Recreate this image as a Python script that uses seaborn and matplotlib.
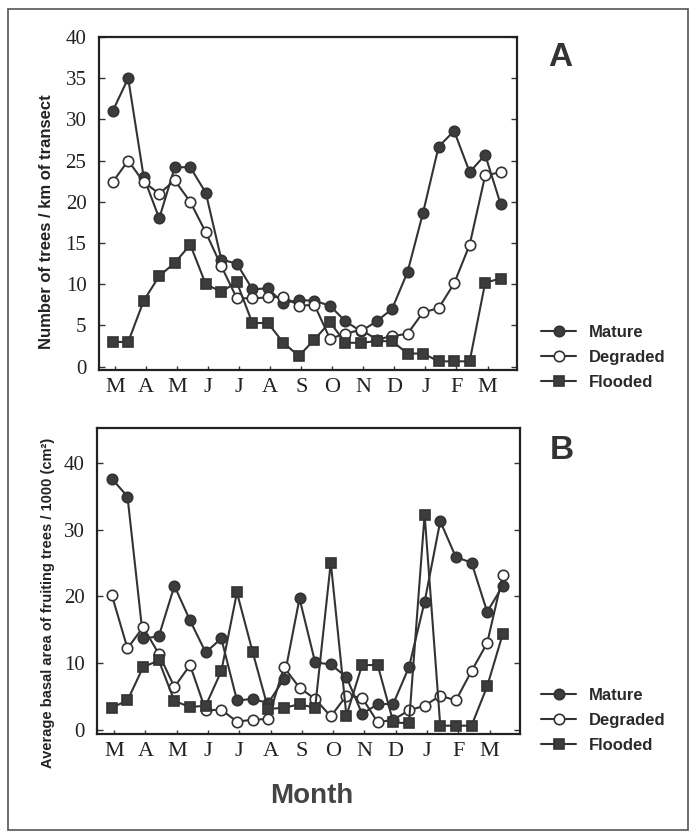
import numpy as np
import pandas as pd
import matplotlib
matplotlib.use("Agg")
import matplotlib.pyplot as plt
import seaborn as sns
from matplotlib.patches import Rectangle

# Month initials (March to March) and half-month sampling positions
months = ["M", "A", "M", "J", "J", "A", "S", "O", "N", "D", "J", "F", "M"]
half_month = np.arange(26)

# Panel A: number of fruiting trees per km of transect
trees_mature = [31, 35, 23, 18, 24.2, 24.2, 21.1, 13, 12.5, 9.4, 9.5, 7.7, 8.1,
                8, 7.4, 5.5, 4.3, 5.5, 7, 11.5, 18.7, 26.7, 28.6, 23.6, 25.7, 19.7]
trees_degraded = [22.4, 25, 22.4, 21, 22.6, 20, 16.3, 12.2, 8.3, 8.3, 8.4, 8.5, 7.4,
                  7.5, 3.4, 4, 4.5, 3.3, 3.7, 4.0, 6.6, 7.1, 10.1, 14.8, 23.2, 23.6]
trees_flooded = [3, 3, 8, 11, 12.6, 14.8, 10, 9.1, 10.25, 5.3, 5.3, 2.9, 1.3,
                 3.3, 5.4, 2.9, 2.9, 3.1, 3.1, 1.6, 1.6, 0.65, 0.65, 0.65, 10.2, 10.7]

# Panel B: average basal area of fruiting trees / 1000 (cm2)
basal_mature = [37.7, 35.0, 13.7, 14.0, 21.6, 16.4, 11.6, 13.7, 4.4, 4.6, 4.0, 7.6, 19.7,
                10.1, 9.8, 7.9, 2.4, 3.8, 3.9, 9.4, 19.2, 31.3, 25.9, 25.1, 17.7, 21.6]
basal_degraded = [20.2, 12.2, 15.4, 11.4, 6.4, 9.7, 2.9, 3.0, 1.2, 1.5, 1.6, 9.4, 6.3,
                  4.6, 2.0, 5.1, 4.8, 1.1, 1.5, 2.9, 3.6, 5.1, 4.4, 8.8, 13.0, 23.2]
basal_flooded = [3.3, 4.4, 9.4, 10.4, 4.3, 3.4, 3.6, 8.8, 20.6, 11.7, 3.1, 3.3, 3.8,
                 3.3, 25.1, 2.1, 9.7, 9.7, 1.1, 0.95, 32.3, 0.6, 0.6, 0.6, 6.5, 14.4]

forest_types = ["Mature", "Degraded", "Flooded"]

sns.set_style("ticks")
plt.rcParams["font.family"] = ["Liberation Sans", "DejaVu Sans"]

INK = "#333333"
W, H = 695, 838
fig = plt.figure(figsize=(W / 100, H / 100), dpi=100)
fig.patch.set_facecolor("white")


def fx(px):
    return px / W


def fy(py):
    return 1 - py / H


def make_frame(values):
    rows = []
    for name, vals in zip(forest_types, values):
        for x, v in zip(half_month, vals):
            rows.append({"forest": name, "half_month": x, "value": v})
    return pd.DataFrame(rows)


styles = {
    "Mature": dict(marker="o", markersize=7.5, markerfacecolor="#3c3c3c",
                   markeredgecolor=INK),
    "Degraded": dict(marker="o", markersize=7.5, markerfacecolor="white",
                     markeredgecolor=INK),
    "Flooded": dict(marker="s", markersize=7, markerfacecolor="#3c3c3c",
                    markeredgecolor=INK),
}


def draw_panel(ax, df, ylim, yticks, xlim, letter, letter_xy, legend_y):
    for name in forest_types:
        sub = df[df["forest"] == name]
        sns.lineplot(data=sub, x="half_month", y="value", ax=ax, color=INK,
                     linewidth=1.5, markeredgewidth=1.2,
                     label=name, **styles[name])
    ax.set_xlim(*xlim)
    ax.set_ylim(*ylim)
    ax.set_yticks(yticks)
    ax.set_yticklabels([str(t) for t in yticks], family="Liberation Serif",
                       fontsize=15, color="#222222")
    ax.set_xticks(np.arange(len(months)) * 2 + 0.15)
    ax.set_xticklabels(months, family="Liberation Serif", fontsize=16,
                       color="#222222")
    ax.set_xlabel("")
    ax.set_ylabel("")
    ax.tick_params(axis="y", direction="in", length=4, width=1, left=True,
                   right=True, pad=9, colors=INK, labelcolor="#222222")
    ax.tick_params(axis="x", direction="in", length=3, width=1, pad=6,
                   colors=INK, labelcolor="#222222")
    for sp in ax.spines.values():
        sp.set_visible(True)
        sp.set_linewidth(1.6)
        sp.set_color("#222222")
    ax.set_facecolor("white")
    fig.text(fx(letter_xy[0]), fy(letter_xy[1]), letter, fontsize=24,
             fontweight="bold", color=INK, ha="center", va="center")
    leg = ax.legend(loc="center left", bbox_to_anchor=(fx(541), fy(legend_y)),
                    bbox_transform=fig.transFigure, frameon=False,
                    handlelength=2.1, handletextpad=0.8, labelspacing=0.6,
                    borderpad=0, borderaxespad=0,
                    prop={"weight": "bold", "size": 12})
    for t in leg.get_texts():
        t.set_color("#2a2a2a")


ax_a = fig.add_axes([fx(99), fy(370), fx(517) - fx(99), fy(37) - fy(370)])
draw_panel(ax_a, make_frame([trees_mature, trees_degraded, trees_flooded]),
           (-0.4, 40), list(range(0, 41, 5)), (-0.88, 26.05),
           "A", (560, 57), 357)

ax_b = fig.add_axes([fx(97), fy(734), fx(520) - fx(97), fy(428) - fy(734)])
draw_panel(ax_b, make_frame([basal_mature, basal_degraded, basal_flooded]),
           (-0.65, 45.3), [0, 10, 20, 30, 40], (-0.95, 26.1),
           "B", (562, 450), 720)

fig.text(fx(47), fy(222), "Number of trees / km of transect", rotation=90,
         ha="center", va="center", fontsize=12, fontweight="bold", color="#222222")
fig.text(fx(48), fy(603), "Average basal area of fruiting trees / 1000 (cm²)",
         rotation=90, ha="center", va="center", fontsize=10.5, fontweight="bold",
         color="#222222")
fig.text(fx(312), fy(796), "Month", ha="center", va="center", fontsize=20,
         fontweight="bold", color="#444444")

fig.patches.append(Rectangle((fx(8), fy(830)), fx(688) - fx(8), fy(9) - fy(830),
                             transform=fig.transFigure, fill=False,
                             edgecolor="#555555", linewidth=1.2))

fig.savefig("out.png", dpi=100, facecolor="white")
